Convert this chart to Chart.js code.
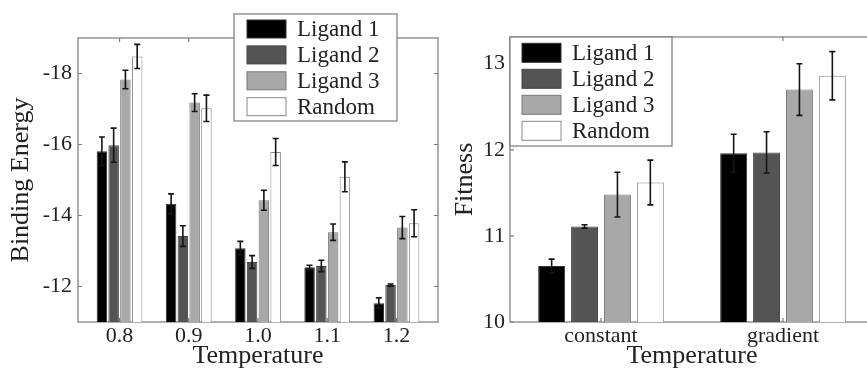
<!DOCTYPE html>
<html>
<head>
<meta charset="utf-8">
<script src="https://cdn.jsdelivr.net/npm/chart.js@4.4.1/dist/chart.umd.min.js"></script>
<style>
html, body { margin: 0; padding: 0; background: #fff; overflow: hidden; width: 867px; height: 369px; }
#left { position: absolute; left: 0; top: 0; }
#right { position: absolute; left: 440px; top: 0; }
.probe { font-family: 'Liberation Serif'; position: absolute; left: -500px; }
</style>
</head>
<body>
<span class="probe">Ligand Temperature 0123</span>
<canvas id="left" width="440" height="369"></canvas>
<canvas id="right" width="445" height="369"></canvas>
<script>
const seriesNames = ['Ligand 1', 'Ligand 2', 'Ligand 3', 'Random'];
const seriesColors = ['#000000', '#545454', '#a8a8a8', '#ffffff'];
const seriesBorders = ['#333333', '#444444', '#777777', '#888888'];

// left panel: binding energy per temperature
const temperatures = ['0.8', '0.9', '1.0', '1.1', '1.2'];
const bindingTicks = [-18, -16, -14, -12];
const bindingLigand1 = [-15.81, -14.33, -13.08, -12.54, -11.53];
const bindingLigand2 = [-15.98, -13.42, -12.69, -12.58, -12.04];
const bindingLigand3 = [-17.83, -17.18, -14.43, -13.53, -13.66];
const bindingRandom = [-18.48, -17.02, -15.79, -15.09, -13.78];
const bindingErrLigand1 = [0.40, 0.28, 0.19, 0.06, 0.15];
const bindingErrLigand2 = [0.48, 0.29, 0.18, 0.16, 0.03];
const bindingErrLigand3 = [0.26, 0.25, 0.28, 0.23, 0.31];
const bindingErrRandom = [0.34, 0.37, 0.38, 0.42, 0.38];

// right panel: fitness per condition
const conditions = ['constant', 'gradient'];
const fitnessTicks = [10, 11, 12, 13];
const fitnessLigand1 = [10.65, 11.96];
const fitnessLigand2 = [11.11, 11.97];
const fitnessLigand3 = [11.48, 12.70];
const fitnessRandom = [11.62, 12.86];
const fitnessErrLigand1 = [0.08, 0.22];
const fitnessErrLigand2 = [0.02, 0.24];
const fitnessErrLigand3 = [0.26, 0.30];
const fitnessErrRandom = [0.26, 0.28];

const FONT = 'Liberation Serif';
Chart.defaults.font.family = FONT;
Chart.defaults.color = '#222';

function makeDatasets(values, errors, base, barPct, catPct) {
    const datasets = [];
    for (let i = 0; i < values.length; i++) {
        datasets.push({
            label: seriesNames[i],
            data: values[i].map((v, j) => ({ x: j, y: v, err: errors[i][j] })),
            backgroundColor: seriesColors[i],
            borderColor: seriesBorders[i],
            borderWidth: 1,
            base: base,
            barPercentage: barPct,
            categoryPercentage: catPct,
        });
    }
    return datasets;
}

const frame = {
    id: 'frame',
    beforeDatasetsDraw(chart) {
        const { ctx, chartArea: a, scales } = chart;
        ctx.save();
        ctx.strokeStyle = '#7a7a7a';
        ctx.lineWidth = 1.2;
        ctx.strokeRect(a.left, a.top, a.right - a.left, a.bottom - a.top);
        ctx.beginPath();
        scales.y.ticks.forEach(t => {
            const py = scales.y.getPixelForValue(t.value);
            ctx.moveTo(a.left, py); ctx.lineTo(a.left + 4, py);
            ctx.moveTo(a.right, py); ctx.lineTo(a.right - 4, py);
        });
        scales.x.ticks.forEach(t => {
            const px = scales.x.getPixelForValue(t.value);
            ctx.moveTo(px, a.top); ctx.lineTo(px, a.top + 4);
            ctx.moveTo(px, a.bottom); ctx.lineTo(px, a.bottom - 4);
        });
        ctx.stroke();
        ctx.restore();
    }
};

const errorBars = {
    id: 'errorBars',
    afterDatasetsDraw(chart, args, opts) {
        const { ctx } = chart;
        const yScale = chart.scales.y;
        const cap = opts.cap || 3;
        ctx.save();
        ctx.strokeStyle = '#151515';
        ctx.lineWidth = 1.6;
        chart.data.datasets.forEach((ds, i) => {
            chart.getDatasetMeta(i).data.forEach((bar, j) => {
                const p = ds.data[j];
                const y1 = yScale.getPixelForValue(p.y - p.err);
                const y2 = yScale.getPixelForValue(p.y + p.err);
                ctx.beginPath();
                ctx.moveTo(bar.x, y1); ctx.lineTo(bar.x, y2);
                ctx.moveTo(bar.x - cap, y1); ctx.lineTo(bar.x + cap, y1);
                ctx.moveTo(bar.x - cap, y2); ctx.lineTo(bar.x + cap, y2);
                ctx.stroke();
            });
        });
        ctx.restore();
    }
};

const boxLegend = {
    id: 'boxLegend',
    afterDraw(chart, args, o) {
        const { ctx } = chart;
        ctx.save();
        ctx.fillStyle = '#fff';
        ctx.fillRect(o.x, o.y, o.w, o.h);
        ctx.strokeStyle = '#7a7a7a';
        ctx.lineWidth = 1.2;
        ctx.strokeRect(o.x, o.y, o.w, o.h);
        ctx.font = o.fontSize + 'px ' + FONT;
        ctx.textBaseline = 'middle';
        ctx.textAlign = 'left';
        chart.data.datasets.forEach((ds, i) => {
            const cy = o.firstRow + i * o.rowH;
            ctx.fillStyle = ds.backgroundColor;
            ctx.fillRect(o.swatchX, cy - o.swatchH / 2, o.swatchW, o.swatchH);
            ctx.strokeStyle = ds.borderColor;
            ctx.lineWidth = 1;
            ctx.strokeRect(o.swatchX, cy - o.swatchH / 2, o.swatchW, o.swatchH);
            ctx.fillStyle = '#222';
            ctx.fillText(ds.label, o.textX, cy + 1);
        });
        ctx.restore();
    }
};

function makeChart(canvasId, cfg) {
    return new Chart(document.getElementById(canvasId), {
        type: 'bar',
        data: { datasets: cfg.datasets },
        options: {
            responsive: false,
            animation: false,
            devicePixelRatio: 1,
            layout: { padding: cfg.padding },
            plugins: {
                legend: { display: false },
                tooltip: { enabled: false },
                errorBars: { cap: 3 },
                boxLegend: cfg.legend,
            },
            scales: {
                x: {
                    type: 'linear',
                    offset: false,
                    min: cfg.xMin,
                    max: cfg.xMax,
                    grid: { display: false, drawTicks: false },
                    border: { display: false },
                    afterBuildTicks: scale => { scale.ticks = cfg.labels.map((l, i) => ({ value: i })); },
                    afterFit: scale => { scale.height = 47; },
                    ticks: {
                        autoSkip: false,
                        maxRotation: 0,
                        padding: 3,
                        font: { family: FONT, size: 22, lineHeight: 1 },
                        callback: v => cfg.labels[v],
                    },
                    title: {
                        display: true,
                        text: 'Temperature',
                        font: { family: FONT, size: 26, lineHeight: 1 },
                        padding: { top: 0, bottom: 0 },
                    },
                },
                y: {
                    reverse: cfg.reverse,
                    min: cfg.yMin,
                    max: cfg.yMax,
                    grid: { display: false, drawTicks: false },
                    border: { display: false },
                    afterBuildTicks: scale => { scale.ticks = cfg.yTicks.map(v => ({ value: v })); },
                    afterFit: scale => { scale.width = cfg.yWidth; },
                    ticks: {
                        padding: cfg.yTickPad,
                        font: { family: FONT, size: 22, lineHeight: 1 },
                    },
                    title: {
                        display: true,
                        text: cfg.yTitle,
                        font: { family: FONT, size: 26, lineHeight: 1 },
                        padding: { top: cfg.yTitlePad, bottom: 0 },
                    },
                },
            },
        },
        plugins: [frame, errorBars, boxLegend],
    });
}

function drawAll() {
    makeChart('left', {
        datasets: makeDatasets(
            [bindingLigand1, bindingLigand2, bindingLigand3, bindingRandom],
            [bindingErrLigand1, bindingErrLigand2, bindingErrLigand3, bindingErrRandom],
            -11, 0.89, 0.68),
        labels: temperatures,
        xMin: -0.6, xMax: 4.6,
        yMin: -19, yMax: -11, reverse: true,
        yTicks: bindingTicks,
        yTitle: 'Binding Energy',
        yWidth: 78, yTickPad: 6, yTitlePad: 8,
        padding: { top: 38, right: 2, left: 0, bottom: 0 },
        legend: { x: 234, y: 14, w: 163, h: 107, swatchX: 247, swatchW: 39, swatchH: 18,
                  firstRow: 29, rowH: 25.9, textX: 297, fontSize: 23 },
    });

    makeChart('right', {
        datasets: makeDatasets(
            [fitnessLigand1, fitnessLigand2, fitnessLigand3, fitnessRandom],
            [fitnessErrLigand1, fitnessErrLigand2, fitnessErrLigand3, fitnessErrRandom],
            10, 0.82, 0.723),
        labels: conditions,
        xMin: -0.5, xMax: 1.5,
        yMin: 10, yMax: 13.31, reverse: false,
        yTicks: fitnessTicks,
        yTitle: 'Fitness',
        yWidth: 70, yTickPad: 5, yTitlePad: 12,
        padding: { top: 37, right: 11, left: 0, bottom: 0 },
        legend: { x: 70, y: 37, w: 162, h: 109, swatchX: 82, swatchW: 39, swatchH: 19,
                  firstRow: 52.8, rowH: 26, textX: 132, fontSize: 23 },
    });
}

if (document.fonts && document.fonts.load) {
    Promise.all([
        document.fonts.load('22px "Liberation Serif"'),
        document.fonts.load('26px "Liberation Serif"'),
    ]).then(drawAll, drawAll);
} else {
    drawAll();
}
</script>
</body>
</html>
